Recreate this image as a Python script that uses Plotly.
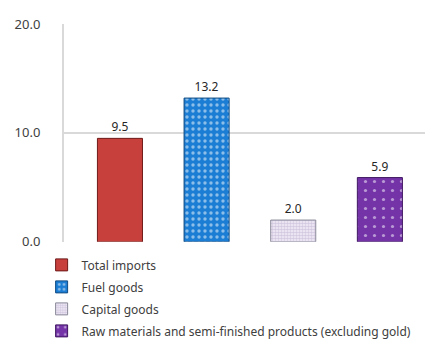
import plotly.graph_objects as go

series = ["Total imports", "Fuel goods", "Capital goods",
          "Raw materials and semi-finished products (excluding gold)"]
values = [9.5, 13.2, 2.0, 5.9]
labels = ["9.5", "13.2", "2.0", "5.9"]
category = [""]
y_ticks = [0, 10, 20]
y_tick_labels = ["0.0", "10.0", "20.0"]

colors = ["#C8403C", "#1B7DD3", "#FFFFFF", "#7434A8"]
line_colors = ["#6E1A18", "#0E4A82", "#8A8A9A", "#3E1560"]
patterns = [
    dict(shape=""),
    dict(shape=".", fgcolor="#FFFFFF", bgcolor="#1B7DD3", size=6, solidity=0.25),
    dict(shape=".", fgcolor="#B0A0C8", bgcolor="#F4F0F8", size=3, solidity=0.6),
    dict(shape=".", fgcolor="#FFFFFF", bgcolor="#7434A8", size=9, solidity=0.1),
]

fig = go.Figure()
for i, name in enumerate(series):
    fig.add_trace(go.Bar(
        x=category, y=[values[i]], name=name,
        text=[labels[i]], textposition="outside",
        textfont=dict(size=12, color="#262626"),
        cliponaxis=False,
        legendgroup=name,
        marker=dict(color=colors[i], pattern=patterns[i],
                    line=dict(color=line_colors[i], width=1)),
    ))

fig.update_layout(
    width=425, height=343,
    margin=dict(l=64, r=0, t=24, b=100),
    paper_bgcolor="white", plot_bgcolor="white",
    font=dict(family="Noto Sans", size=12, color="#404040"),
    barmode="group", bargap=0.04, bargroupgap=0.48,
    showlegend=True,
    legend=dict(orientation="v", x=-0.062, xanchor="left",
                yref="container", y=0.27, yanchor="top",
                font=dict(size=12, color="#404040"), tracegroupgap=3,
                itemwidth=30, bgcolor="rgba(0,0,0,0)"),
    xaxis=dict(range=[-0.515, 0.485], showticklabels=False, showgrid=False,
               zeroline=False, showline=False, fixedrange=True),
    yaxis=dict(range=[0, 20], tickvals=y_ticks, ticktext=y_tick_labels,
               showgrid=True, gridcolor="#D9D9D9", gridwidth=2,
               zeroline=False, showline=True, linecolor="#D9D9D9", linewidth=2,
               tickfont=dict(size=13, color="#404040"), ticks="", ticklen=0,
               ticklabelstandoff=19),
)

fig.write_html("out.html")
